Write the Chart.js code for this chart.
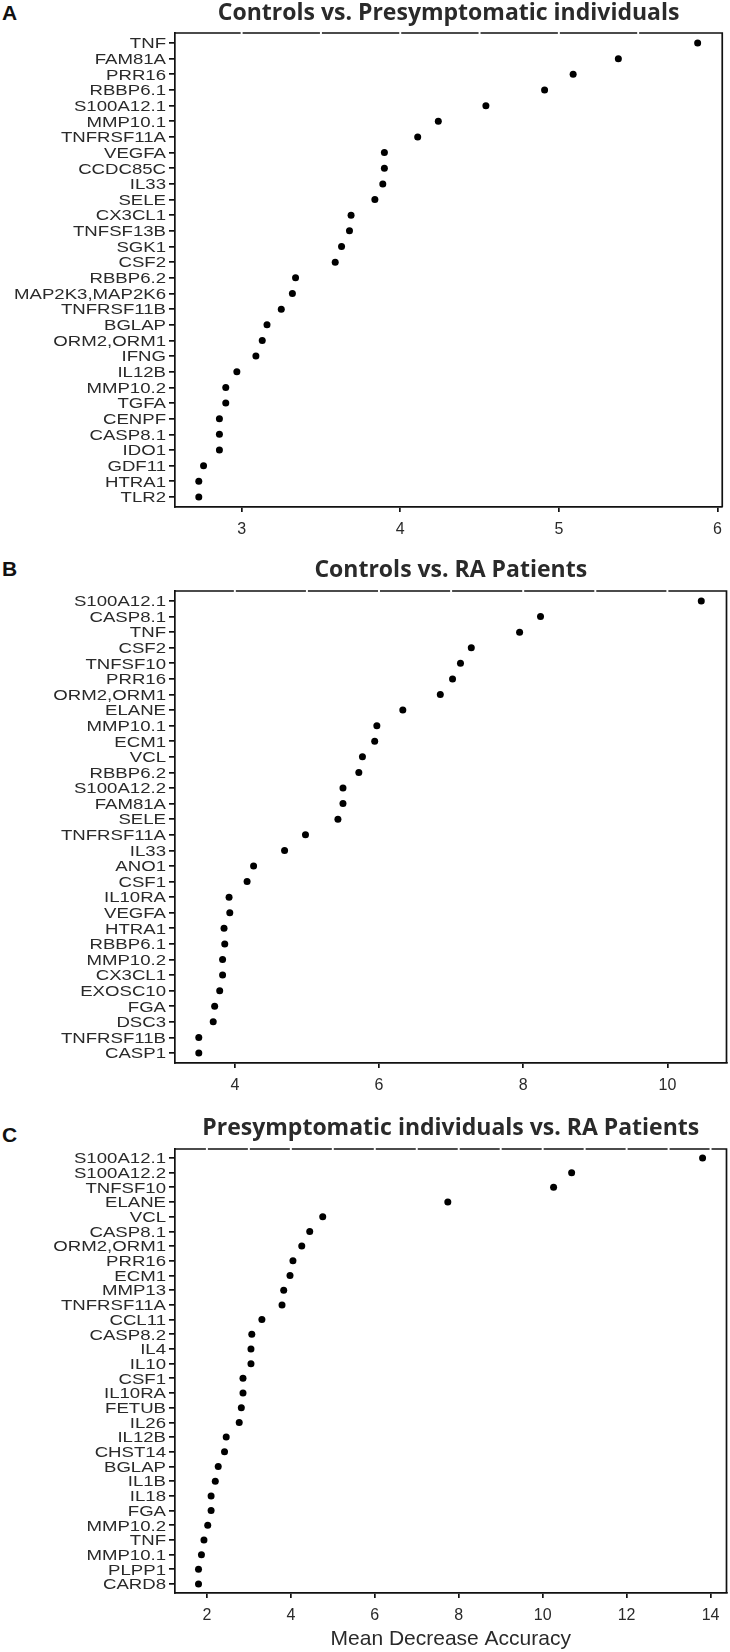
<!DOCTYPE html>
<html>
<head>
<meta charset="utf-8">
<script src="https://cdn.jsdelivr.net/npm/chart.js@4.4.1/dist/chart.umd.min.js"></script>
<style>
  body { margin: 0; background: #fff; width: 730px; height: 1652px; position: relative; overflow: hidden; }
  .panel { position: absolute; left: 0; width: 730px; }
  .letter { position: absolute; left: 2px; font: bold 21px "Liberation Sans", Arial, sans-serif; color: #111; }
</style>
</head>
<body>
<div class="letter" style="top:1px">A</div>
<div class="letter" style="top:557px">B</div>
<div class="letter" style="top:1123px">C</div>
<div class="panel" style="top:0px;height:540px"><canvas id="chartA"></canvas></div>
<div class="panel" style="top:545px;height:560px"><canvas id="chartB"></canvas></div>
<div class="panel" style="top:1105px;height:547px"><canvas id="chartC"></canvas></div>
<script>
// A: Controls vs. Presymptomatic individuals
const genesA = ["TNF", "FAM81A", "PRR16", "RBBP6.1", "S100A12.1", "MMP10.1", "TNFRSF11A", "VEGFA",
  "CCDC85C", "IL33", "SELE", "CX3CL1", "TNFSF13B", "SGK1", "CSF2", "RBBP6.2", "MAP2K3,MAP2K6",
  "TNFRSF11B", "BGLAP", "ORM2,ORM1", "IFNG", "IL12B", "MMP10.2", "TGFA", "CENPF", "CASP8.1",
  "IDO1", "GDF11", "HTRA1", "TLR2"];
const valuesA = [5.875, 5.375, 5.09, 4.91, 4.54, 4.24, 4.11, 3.90, 3.90, 3.89, 3.84, 3.69, 3.68,
  3.63, 3.59, 3.34, 3.32, 3.25, 3.16, 3.13, 3.09, 2.97, 2.90, 2.90, 2.86, 2.86, 2.86, 2.76, 2.73, 2.73];
const ticksA = [3, 4, 5, 6];

// B: Controls vs. RA Patients
const genesB = ["S100A12.1", "CASP8.1", "TNF", "CSF2", "TNFSF10", "PRR16", "ORM2,ORM1", "ELANE",
  "MMP10.1", "ECM1", "VCL", "RBBP6.2", "S100A12.2", "FAM81A", "SELE", "TNFRSF11A", "IL33", "ANO1",
  "CSF1", "IL10RA", "VEGFA", "HTRA1", "RBBP6.1", "MMP10.2", "CX3CL1", "EXOSC10", "FGA", "DSC3",
  "TNFRSF11B", "CASP1"];
const valuesB = [10.47, 8.24, 7.95, 7.28, 7.13, 7.02, 6.85, 6.33, 5.97, 5.94, 5.77, 5.72, 5.50, 5.50,
  5.43, 4.98, 4.69, 4.26, 4.17, 3.92, 3.93, 3.85, 3.86, 3.83, 3.83, 3.79, 3.72, 3.70, 3.50, 3.50];
const ticksB = [4, 6, 8, 10];

// C: Presymptomatic individuals vs. RA Patients
const genesC = ["S100A12.1", "S100A12.2", "TNFSF10", "ELANE", "VCL", "CASP8.1", "ORM2,ORM1", "PRR16",
  "ECM1", "MMP13", "TNFRSF11A", "CCL11", "CASP8.2", "IL4", "IL10", "CSF1", "IL10RA", "FETUB", "IL26",
  "IL12B", "CHST14", "BGLAP", "IL1B", "IL18", "FGA", "MMP10.2", "TNF", "MMP10.1", "PLPP1", "CARD8"];
const valuesC = [13.81, 10.69, 10.26, 7.74, 4.76, 4.45, 4.26, 4.05, 3.98, 3.83, 3.79, 3.31, 3.07, 3.05,
  3.05, 2.86, 2.86, 2.82, 2.77, 2.46, 2.42, 2.27, 2.20, 2.10, 2.10, 2.02, 1.93, 1.87, 1.80, 1.80];
const ticksC = [2, 4, 6, 8, 10, 12, 14];

const INK = '#111';
const TXT = '#2a2a2a';
const FONT = '"Liberation Sans", Arial, sans-serif';
Chart.defaults.font.family = FONT;

// box edges (top edge broken at regular steps like the original) + wide gene labels
const framePlugin = {
  id: 'frame',
  afterDraw(chart, args, opts) {
    const { ctx, chartArea: a, scales: { x, y } } = chart;
    ctx.save();
    ctx.strokeStyle = INK;
    ctx.lineWidth = 1.7;
    ctx.beginPath();
    ctx.moveTo(a.left, a.top);
    ctx.lineTo(a.right, a.top);
    ctx.lineTo(a.right, a.bottom);
    ctx.stroke();
    ctx.strokeStyle = '#fff';
    ctx.lineWidth = 2;
    for (let v = Math.ceil(x.min / opts.step) * opts.step; v < x.max - 0.05; v += opts.step) {
      const px = x.getPixelForValue(v);
      ctx.beginPath();
      ctx.moveTo(px, a.top - 2);
      ctx.lineTo(px, a.top + 2);
      ctx.stroke();
    }
    // gene names: the original glyphs are stretched sideways
    ctx.fillStyle = TXT;
    ctx.font = '15.5px ' + FONT;
    ctx.textAlign = 'right';
    ctx.textBaseline = 'middle';
    y.ticks.forEach(t => {
      ctx.save();
      ctx.translate(a.left - 9, y.getPixelForValue(t.value) + 1);
      ctx.scale(1.2, 1);
      ctx.fillText(opts.genes[t.value - 1], 0, 0);
      ctx.restore();
    });
    ctx.restore();
  }
};

function makePanel(id, title, genes, values, tickVals, p) {
  const n = genes.length;
  new Chart(document.getElementById(id), {
    type: 'scatter',
    data: {
      datasets: [{
        data: values.map((v, i) => ({ x: v, y: i + 1 })),
        pointRadius: 3.5,
        pointBackgroundColor: '#000',
        pointBorderWidth: 0,
        pointHoverRadius: 3.5
      }]
    },
    options: {
      responsive: true,
      maintainAspectRatio: false,
      animation: false,
      layout: { padding: { left: 0, right: 3, top: 0, bottom: 0 } },
      plugins: {
        legend: { display: false },
        tooltip: { enabled: false },
        title: {
          display: true,
          text: title,
          fullSize: false,
          color: TXT,
          font: { family: '"Open Sans", sans-serif', size: 23, weight: 'bold' },
          padding: { top: p.titleTop, bottom: p.titleBottom }
        },
        frame: { step: p.step, genes: genes }
      },
      scales: {
        x: {
          type: 'linear',
          min: p.xmin,
          max: p.xmax,
          afterBuildTicks: s => { s.ticks = tickVals.map(v => ({ value: v })); },
          afterFit: s => { s.height = p.xHeight; },
          border: { color: INK, width: 1.7 },
          grid: { drawOnChartArea: false, tickLength: 5, color: INK, lineWidth: 1.7 },
          ticks: { color: TXT, font: { size: 16 }, padding: 8, maxRotation: 0, autoSkip: false },
          title: {
            display: !!p.xTitle,
            text: p.xTitle || '',
            color: TXT,
            font: { size: 21 },
            padding: { top: 0, bottom: 0 }
          }
        },
        y: {
          type: 'linear',
          reverse: true,
          min: 1 - p.yPad,
          max: n + p.yPad,
          afterBuildTicks: s => { s.ticks = genes.map((g, i) => ({ value: i + 1 })); },
          afterFit: s => { s.width = 175; },
          border: { color: INK, width: 1.7 },
          grid: { drawOnChartArea: false, tickLength: 6, color: INK, lineWidth: 1.7 },
          ticks: { display: false }
        }
      }
    },
    plugins: [framePlugin]
  });
}

makePanel('chartA', 'Controls vs. Presymptomatic individuals', genesA, valuesA, ticksA,
  { xmin: 2.58, xmax: 6.03, step: 0.5, yPad: 0.64, titleTop: 0, titleBottom: 5.4, xHeight: 33 });
makePanel('chartB', 'Controls vs. RA Patients', genesB, valuesB, ticksB,
  { xmin: 3.17, xmax: 10.82, step: 1, yPad: 0.64, titleTop: 11.2, titleBottom: 7.2, xHeight: 42 });
makePanel('chartC', 'Presymptomatic individuals vs. RA Patients', genesC, valuesC, ticksC,
  { xmin: 1.24, xmax: 14.38, step: 1, yPad: 0.61, titleTop: 9.2, titleBottom: 7.2, xHeight: 59,
    xTitle: 'Mean Decrease Accuracy' });
</script>
</body>
</html>
